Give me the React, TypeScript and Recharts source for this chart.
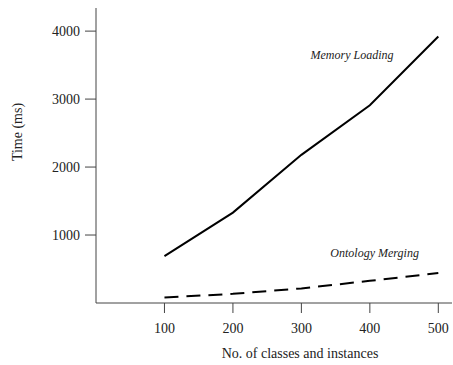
import { Label, Line, LineChart, ReferenceDot, XAxis, YAxis } from "recharts";

const sizes = [100, 200, 300, 400, 500];
const memoryLoading = [690, 1330, 2180, 2910, 3920];
const ontologyMerging = [80, 135, 215, 326, 440];
const yTicks = [1000, 2000, 3000, 4000];

const data = sizes.map((n, i) => ({ n, memory: memoryLoading[i], merging: ontologyMerging[i] }));

const FONT = "'Liberation Serif', 'DejaVu Serif', serif";
const INK = "#222";

export default function App() {
  return (
    <div style={{ position: "absolute", left: 0, top: 0 }}>
      <LineChart width={453} height={365} data={data} margin={{ top: 8, right: 1, left: 0, bottom: 0 }}>
        <XAxis
          dataKey="n"
          type="number"
          domain={[0, 520]}
          ticks={sizes}
          height={62}
          tickSize={10}
          tickMargin={10}
          stroke="#444"
          tick={{ fill: INK, fontFamily: FONT, fontSize: 14 }}
        >
          <Label
            content={() => (
              <text x={300} y={358} textAnchor="middle" fill={INK} fontFamily={FONT} fontSize={14}>
                No. of classes and instances
              </text>
            )}
          />
        </XAxis>
        <YAxis
          type="number"
          domain={[0, 4340]}
          ticks={yTicks}
          width={96}
          tickSize={11}
          tickMargin={5}
          stroke="#444"
          tick={{ fill: INK, fontFamily: FONT, fontSize: 14 }}
        >
          <Label
            content={() => (
              <text transform="translate(22,132) rotate(-90)" textAnchor="middle" fill={INK} fontFamily={FONT} fontSize={14}>
                Time (ms)
              </text>
            )}
          />
        </YAxis>
        <Line dataKey="memory" stroke="#000" strokeWidth={2} dot={false} isAnimationActive={false} />
        <Line dataKey="merging" stroke="#000" strokeWidth={2} strokeDasharray="14 8" dot={false} isAnimationActive={false} />
        <ReferenceDot x={374} y={3650} r={0} fill="none" stroke="none">
          <Label value="Memory Loading" position="center" fill={INK} fontFamily={FONT} fontSize={12} fontStyle="italic" />
        </ReferenceDot>
        <ReferenceDot x={407} y={735} r={0} fill="none" stroke="none">
          <Label value="Ontology Merging" position="center" fill={INK} fontFamily={FONT} fontSize={12} fontStyle="italic" />
        </ReferenceDot>
      </LineChart>
    </div>
  );
}
